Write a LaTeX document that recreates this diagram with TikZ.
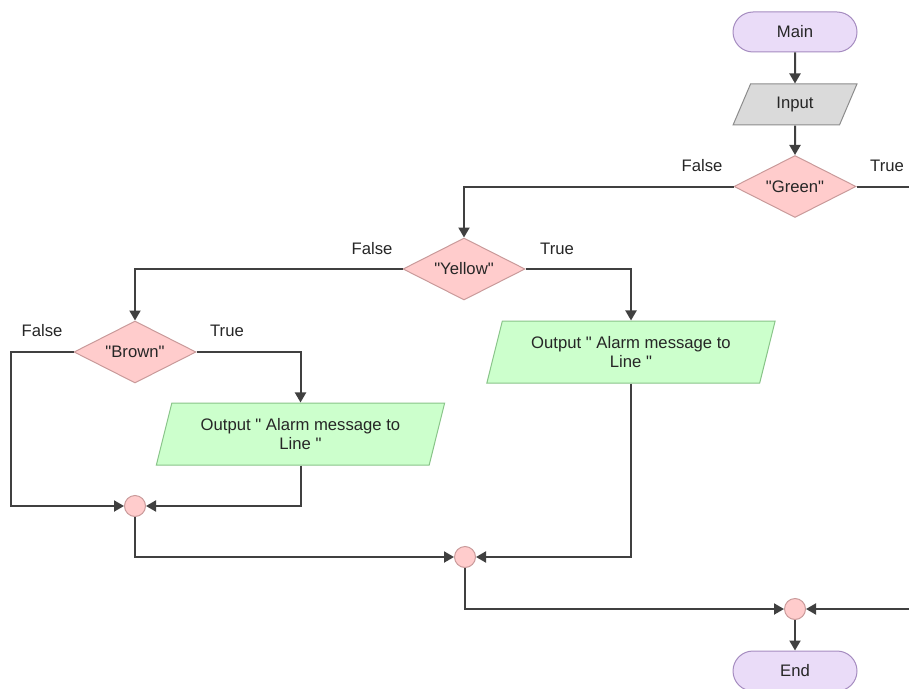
\documentclass[tikz,border=0pt]{standalone}
\usepackage{fontspec}
\setmainfont{Liberation Sans}[Ligatures=TeXOff]
\usetikzlibrary{shapes.geometric,arrows.meta}

\definecolor{termfill}{HTML}{EADCF8}
\definecolor{termdraw}{HTML}{A58CC0}
\definecolor{iofill}{HTML}{DADADA}
\definecolor{iodraw}{HTML}{8C8C8C}
\definecolor{decfill}{HTML}{FFCCCC}
\definecolor{decdraw}{HTML}{C99A9A}
\definecolor{outfill}{HTML}{CCFFCC}
\definecolor{outdraw}{HTML}{88C488}
\definecolor{flowline}{HTML}{404040}

\tikzset{
 terminal/.style={draw=termdraw, fill=termfill, rounded corners=15pt, minimum width=93pt, minimum height=30pt, line width=0.75pt},
 inbox/.style={trapezium, trapezium left angle=64, trapezium right angle=116, trapezium stretches=true, draw=iodraw, fill=iofill, minimum width=93pt, minimum height=30.75pt, inner sep=0pt, line width=0.75pt},
 decision/.style={diamond, aspect=2, draw=decdraw, fill=decfill, minimum width=91.5pt, minimum height=46.5pt, inner sep=0pt, line width=0.75pt},
 outbox/.style={trapezium, trapezium left angle=69, trapezium right angle=111, trapezium stretches=true, draw=outdraw, fill=outfill, minimum width=216.75pt, minimum height=46.5pt, inner sep=0pt, align=center, line width=0.75pt},
 junction/.style={circle, draw=decdraw, fill=decfill, minimum size=15.75pt, inner sep=0pt, line width=0.75pt},
 lbl/.style={inner sep=0pt},
 flow/.style={draw=flowline, line width=1.5pt, -{Triangle[length=7.5pt,width=8.25pt]}},
 wire/.style={draw=flowline, line width=1.5pt}
}

\begin{document}
\begin{tikzpicture}[x=0.75pt, y=-0.75pt, font=\fontsize{12.5}{14.25}\selectfont, text=black!85]
 \useasboundingbox (0,0) rectangle (909,688);

 \node[terminal] (main) at (795,32) {Main};
 \node[inbox] (input) at (795,104.5) {Input};
 \node[decision] (green) at (795,186.5) {"Green"};
 \node[decision] (yellow) at (464,269) {"Yellow"};
 \node[decision] (brown) at (135,352) {"Brown"};
 \node[outbox] (out1) at (300.5,434) {Output " Alarm message to\\ Line "};
 \node[outbox] (out2) at (631,352) {Output " Alarm message to\\ Line "};
 \node[junction] (j1) at (135,506) {};
 \node[junction] (j2) at (465,557) {};
 \node[junction] (j3) at (795,609) {};
 \node[terminal] (end) at (795,671) {End};

 \node[lbl] (gfalse) at (702,166) {False};
 \node[lbl] (gtrue) at (887,166) {True};
 \node[lbl] (yfalse) at (372,249) {False};
 \node[lbl] (ytrue) at (557,249) {True};
 \node[lbl] (bfalse) at (42,331) {False};
 \node[lbl] (btrue) at (227,331) {True};

 \coordinate (gright) at (909,186.5);
 \coordinate (bleft) at (11,352);
 \coordinate (jright) at (909,609);

 \draw[flow] (main) -- (input);
 \draw[flow] (input) -- (green);
 \draw[flow] (green.west) -| (yellow.north);
 \draw[wire] (green.east) -- (gright);
 \draw[flow] (yellow.west) -| (brown.north);
 \draw[flow] (yellow.east) -| (out2.north);
 \draw[flow] (brown.east) -| (out1.north);
 \draw[flow] (brown.west) -- (bleft) |- (j1.west);
 \draw[flow] (out1.south) |- (j1.east);
 \draw[flow] (j1.south) |- (j2.west);
 \draw[flow] (out2.south) |- (j2.east);
 \draw[flow] (j2.south) |- (j3.west);
 \draw[flow] (jright) -- (j3.east);
 \draw[flow] (j3) -- (end);
\end{tikzpicture}
\end{document}
